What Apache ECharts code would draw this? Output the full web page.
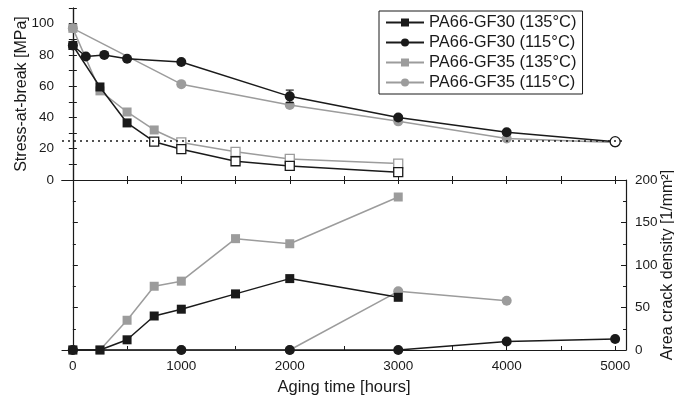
<!DOCTYPE html>
<html>
<head>
<meta charset="utf-8">
<script src="https://cdn.jsdelivr.net/npm/echarts@6/dist/echarts.min.js"></script>
<style>
html, body { margin: 0; padding: 0; background: #fff; }
#main { width: 674px; height: 401px; }
</style>
</head>
<body>
<div id="main"></div>
<script>
// stress-at-break (top panel)
var hours135 = [0, 250, 500, 750, 1000, 1500, 2000, 3000];
var stressGF30_135 = [86, 59.5, 36.5, 24.5, 19.7, 12, 9, 5];
var stressGF35_135 = [97, 57, 43.5, 32, 24, 18, 13.5, 10.5];
var hoursGF30_115 = [0, 120, 290, 500, 1000, 2000, 3000, 4000, 5000];
var stressGF30_115 = [86, 79, 80, 77.5, 75.5, 53.5, 40, 30.5, 24.5];
var hoursGF35_115 = [0, 1000, 2000, 3000, 4000, 5000];
var stressGF35_115 = [97, 61.3, 48, 37.5, 26.5, 24];
var errHours = [2000];
var errLow = [49.5];
var errHigh = [57.5];
var limitStress = 25;

// area crack density (bottom panel)
var crackGF30_135 = [0, 0, 12, 40, 48, 66, 84, 62];
var crackGF35_135 = [0, 0, 35, 75, 81, 131, 125, 180];
var crackHoursGF30_115 = [0, 1000, 2000, 3000, 4000, 5000];
var crackGF30_115 = [0, 0, 0, 0, 10, 13];
var crackHoursGF35_115 = [0, 1000, 2000, 3000, 4000];
var crackGF35_115 = [0, 0, 0, 69, 58];

var xTicks = [0, 500, 1000, 1500, 2000, 2500, 3000, 3500, 4000, 4500, 5000];
var xLabels = [0, 1000, 2000, 3000, 4000, 5000];
var stressTicks = [0, 10, 20, 30, 40, 50, 60, 70, 80, 90, 100, 110];
var stressLabels = [0, 20, 40, 60, 80, 100];

var names = ['PA66-GF30 (135°C)', 'PA66-GF30 (115°C)', 'PA66-GF35 (135°C)', 'PA66-GF35 (115°C)'];
var black = '#1a1a1a';
var gray = '#9c9c9c';
var font = 'Liberation Sans';

// open markers once the value falls under the limit
function pts(xs, ys, color, openFrom) {
    var out = [];
    for (var i = 0; i < xs.length; i++) {
        var item = {value: [xs[i], ys[i]]};
        if (openFrom != null && i >= openFrom) {
            item.itemStyle = {color: '#fff', borderColor: color, borderWidth: 1.3};
        }
        out.push(item);
    }
    return out;
}

function line(name, data, color, symbol, size, xi, yi, z) {
    return {
        name: name,
        type: 'line',
        xAxisIndex: xi,
        yAxisIndex: yi,
        data: data,
        symbol: symbol,
        symbolSize: size,
        z: z,
        clip: false,
        lineStyle: {color: color, width: 1.5},
        itemStyle: {color: color},
        emphasis: {disabled: true},
        animation: false
    };
}

var axisLine = {show: true, lineStyle: {color: black, width: 1.2}};
var plain = function (v) { return String(v); };

function xAxisDef(grid, pos, labels) {
    return {
        type: 'value', gridIndex: grid, position: pos, min: -100, max: 5100,
        axisLine: axisLine,
        axisTick: {inside: true, length: 4, customValues: xTicks, lineStyle: {color: black}},
        axisLabel: labels ? {customValues: xLabels, formatter: plain, color: black, fontSize: 13.5, fontFamily: font, margin: 9} : {show: false},
        splitLine: {show: false}
    };
}

var myChart = echarts.init(document.getElementById('main'));

var stressSeries = [
    line(names[2], pts(hours135, stressGF35_135, gray, 4), gray, 'rect', 9, 0, 0, 2),
    line(names[3], pts(hoursGF35_115, stressGF35_115, gray), gray, 'circle', 10, 0, 0, 2),
    line(names[0], pts(hours135, stressGF30_135, black, 3), black, 'rect', 9, 0, 0, 3),
    line(names[1], pts(hoursGF30_115, stressGF30_115, black, 8), black, 'circle', 10, 0, 0, 3)
];
stressSeries[0].markLine = {
    silent: true,
    symbol: 'none',
    label: {show: false},
    lineStyle: {color: black, type: [2, 4], width: 1.6},
    data: [{yAxis: limitStress}]
};

var crackSeries = [
    line(names[2], pts(hours135, crackGF35_135, gray), gray, 'rect', 9, 2, 3, 2),
    line(names[3], pts(crackHoursGF35_115, crackGF35_115, gray), gray, 'circle', 10, 2, 3, 2),
    line(names[0], pts(hours135, crackGF30_135, black), black, 'rect', 9, 2, 3, 3),
    line(names[1], pts(crackHoursGF30_115, crackGF30_115, black), black, 'circle', 10, 2, 3, 3)
];

var errData = [];
for (var i = 0; i < errHours.length; i++) {
    errData.push([errHours[i], errLow[i], errHigh[i]]);
}

myChart.setOption(option = {
    backgroundColor: '#fff',
    animation: false,
    textStyle: {fontFamily: font},
    grid: [
        {left: 62, right: 48, top: 8, height: 172, outerBoundsMode: 'none'},
        {left: 62, right: 48, top: 180, height: 170, outerBoundsMode: 'none'}
    ],
    legend: {
        data: names,
        orient: 'vertical',
        left: 379,
        top: 11,
        padding: [3, 6, 3, 6],
        borderColor: black,
        borderWidth: 1,
        itemWidth: 38,
        itemHeight: 10,
        itemGap: 3,
        textStyle: {fontSize: 16.5, color: black, fontFamily: font}
    },
    xAxis: [
        xAxisDef(0, 'bottom', false),
        xAxisDef(0, 'top', false),
        Object.assign(xAxisDef(1, 'bottom', true), {
            name: 'Aging time [hours]',
            nameLocation: 'middle',
            nameGap: 29,
            nameMoveOverlap: false,
            nameTextStyle: {fontSize: 16.5, color: black, fontFamily: font}
        })
    ],
    yAxis: [
        {
            type: 'value', gridIndex: 0, position: 'left', min: 0, max: 110,
            axisLine: axisLine,
            axisTick: {inside: true, length: 4, customValues: stressTicks, lineStyle: {color: black}},
            axisLabel: {customValues: stressLabels, color: black, fontSize: 13.5, fontFamily: font, margin: 8},
            splitLine: {show: false},
            name: 'Stress-at-break [MPa]',
            nameLocation: 'middle',
            nameGap: 32,
            nameMoveOverlap: false,
            nameTextStyle: {fontSize: 16, color: black, fontFamily: font}
        },
        {
            type: 'value', gridIndex: 0, position: 'right', min: 0, max: 110,
            axisLine: axisLine,
            axisTick: {inside: true, length: 4, customValues: stressTicks, lineStyle: {color: black}},
            axisLabel: {show: false},
            splitLine: {show: false}
        },
        {
            type: 'value', gridIndex: 1, position: 'left', min: 0, max: 200, interval: 50,
            axisLine: axisLine,
            axisTick: {inside: true, length: 5, lineStyle: {color: black}},
            minorTick: {show: true, splitNumber: 2, length: 3, lineStyle: {color: black}},
            axisLabel: {show: false},
            splitLine: {show: false}
        },
        {
            type: 'value', gridIndex: 1, position: 'right', min: 0, max: 200, interval: 50,
            axisLine: axisLine,
            axisTick: {inside: true, length: 5, lineStyle: {color: black}},
            minorTick: {show: true, splitNumber: 2, length: 3, lineStyle: {color: black}},
            axisLabel: {color: black, fontSize: 13.5, fontFamily: font, margin: 9},
            splitLine: {show: false},
            name: 'Area crack density [1/mm²]',
            nameLocation: 'middle',
            nameRotate: 90,
            nameGap: 34,
            nameMoveOverlap: false,
            nameTextStyle: {fontSize: 16, color: black, fontFamily: font}
        }
    ],
    series: stressSeries.concat(crackSeries).concat([{
        type: 'custom',
        xAxisIndex: 0,
        yAxisIndex: 0,
        z: 4,
        silent: true,
        data: errData,
        renderItem: function (params, api) {
            var lo = api.coord([api.value(0), api.value(1)]);
            var hi = api.coord([api.value(0), api.value(2)]);
            var w = 4;
            var st = {stroke: black, lineWidth: 1.2};
            return {
                type: 'group',
                children: [
                    {type: 'line', shape: {x1: hi[0], y1: hi[1], x2: lo[0], y2: lo[1]}, style: st},
                    {type: 'line', shape: {x1: hi[0] - w, y1: hi[1], x2: hi[0] + w, y2: hi[1]}, style: st},
                    {type: 'line', shape: {x1: lo[0] - w, y1: lo[1], x2: lo[0] + w, y2: lo[1]}, style: st}
                ]
            };
        }
    }])
});
</script>
</body>
</html>
